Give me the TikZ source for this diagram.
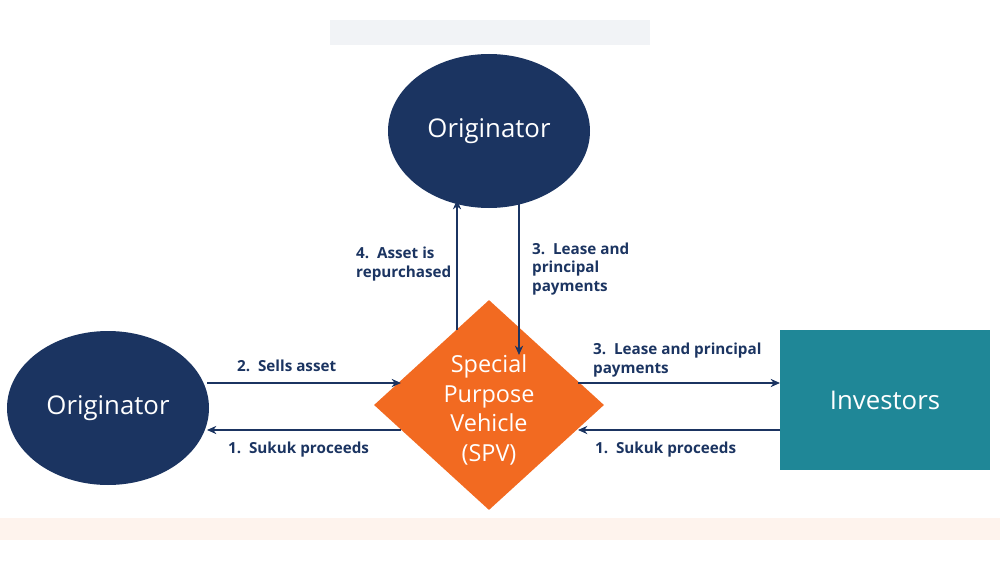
\documentclass[tikz,border=0pt]{standalone}
\usepackage{fontspec}
\setmainfont{Open Sans}
\usetikzlibrary{shapes.geometric,arrows.meta,positioning}
\definecolor{navy}{HTML}{1B3461}
\definecolor{spvorange}{HTML}{F26A21}
\definecolor{teal}{HTML}{1F8797}
\begin{document}
\begin{tikzpicture}[x=0.03cm,y=-0.03cm,
    party/.style={ellipse, fill=navy, minimum width=202*0.03cm, minimum height=154*0.03cm, text=white, font=\fontsize{22}{26}\selectfont},
    flow/.style={navy, line width=1.2pt, -{Stealth[length=8pt,width=7pt]}},
    lbl/.style={text=navy, font=\bfseries\fontsize{13}{15.5}\selectfont, align=left, anchor=west}]
\useasboundingbox (0,0) rectangle (1000,563);
% background strips
\fill[navy!6] (330,20) rectangle (650,45);
\fill[spvorange!8] (0,518) rectangle (1000,540);

% Nodes
\node[party] (orgtop) at (489,131) {Originator};
\node[party] (orgleft) at (108,408) {Originator};
\node[diamond, fill=spvorange, minimum width=230*0.03cm, minimum height=210*0.03cm, inner sep=0pt] (spv) at (489,405) {};
\node[text=white, align=center, font=\fontsize{20}{25.5}\selectfont] (spvtext) at (489,410) {Special\\Purpose\\Vehicle\\(SPV)};
\node[rectangle, fill=teal, minimum width=210*0.03cm, minimum height=140*0.03cm, text=white, font=\fontsize{22}{26}\selectfont] (inv) at (885,400) {Investors};

% Arrow ends
\coordinate (upA) at (457,330);  \coordinate (upB) at (457,200);
\coordinate (dnA) at (519,200);  \coordinate (dnB) at (519,355);
\coordinate (sellA) at (207,383); \coordinate (sellB) at (401,383);
\coordinate (sukA) at (401,430); \coordinate (sukB) at (207,430);
\coordinate (payA) at (578,383); \coordinate (payB) at (780,383);
\coordinate (insA) at (780,430); \coordinate (insB) at (578,430);

\draw[flow] (upA) -- (upB);
\draw[flow] (dnA) -- (dnB);
\draw[flow] (sellA) -- (sellB);
\draw[flow] (sukA) -- (sukB);
\draw[flow] (payA) -- (payB);
\draw[flow] (insA) -- (insB);

% Labels
\node[lbl] (l4) at (352,264) {4.\ \ Asset is\\repurchased};
\node[lbl] (l3a) at (528,269) {3.\ \ Lease and\\principal\\payments};
\node[lbl] (l2) at (233,366) {2.\ \ Sells asset};
\node[lbl] (l1a) at (224,450) {1.\ \ Sukuk proceeds};
\node[lbl] (l3b) at (589,360) {3.\ \ Lease and principal\\payments};
\node[lbl] (l1b) at (591,450) {1.\ \ Sukuk proceeds};
\end{tikzpicture}
\end{document}
